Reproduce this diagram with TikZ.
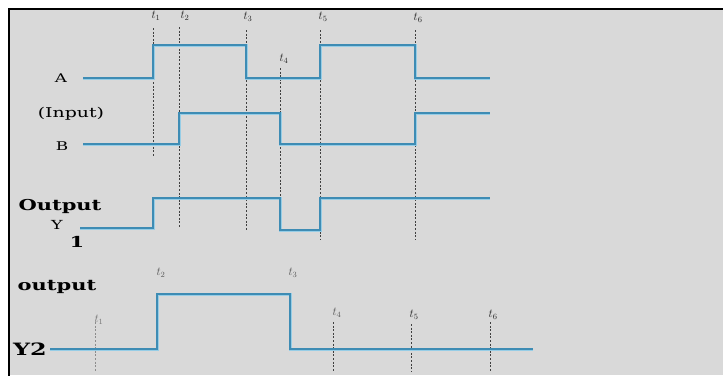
\documentclass[tikz,border=0pt]{standalone}
\usepackage{fontspec}
\newfontfamily\wideserif[FakeStretch=1.4]{DejaVu Serif}
\definecolor{bg}{RGB}{217,217,217}
\definecolor{wavecol}{RGB}{62,140,180}
\definecolor{halo}{RGB}{150,205,230}
\begin{document}
\begin{tikzpicture}[x=1pt,y=-1pt,
  wave/.style={draw=wavecol, line width=1.3pt, preaction={draw=halo, line width=3pt}},
  tline/.style={draw=black!75, line width=0.7pt, dash pattern=on 2pt off 1.6pt},
  tlab/.style={font=\fontsize{12}{12}\selectfont, text=black!85, inner sep=0pt},
  lab/.style={font=\wideserif\fontsize{12}{12}\selectfont, inner sep=0pt},
  blab/.style={font=\wideserif\fontsize{15}{15}\selectfont\bfseries, inner sep=0pt}]
\useasboundingbox (0,0) rectangle (723,375);
\fill[bg] (9,9) rectangle (723,375);
\draw[line width=2.5pt] (9,376) -- (9,9) -- (724,9);

% time lines (upper diagram)
\draw[tline] (153,28) -- (153,157);
\draw[tline] (179,27) -- (179,228);
\draw[tline] (246,30) -- (246,230);
\draw[tline] (280,68) -- (280,230);
\draw[tline] (320,30) -- (320,240);
\draw[tline] (415,30) -- (415,240);
\node[tlab] (u1) at (156,16) {$t_1$};
\node[tlab] (u2) at (185,16) {$t_2$};
\node[tlab] (u3) at (248,17) {$t_3$};
\node[tlab] (u4) at (284,59) {$t_4$};
\node[tlab] (u5) at (323,17) {$t_5$};
\node[tlab] (u6) at (418,18) {$t_6$};

% waveforms
\draw[wave] (83,78) -- (153,78) -- (153,45) -- (246,45) -- (246,78) -- (320,78) -- (320,45) -- (415,45) -- (415,78) -- (490,78);
\draw[wave] (83,144) -- (179,144) -- (179,113) -- (280,113) -- (280,144) -- (415,144) -- (415,113) -- (490,113);
\draw[wave] (80,228) -- (153,228) -- (153,198) -- (280,198) -- (280,230) -- (320,230) -- (320,198) -- (490,198);

% lower diagram time lines
\draw[tline, draw=black!45] (95,322) -- (95,372);
\draw[tline] (333,322) -- (333,372);
\draw[tline] (411,324) -- (411,372);
\draw[tline] (490,322) -- (490,372);
\node[tlab, text=black!55] (v1) at (99,320) {$t_1$};
\node[tlab, text=black!65] (v2) at (161,273) {$t_2$};
\node[tlab, text=black!65] (v3) at (293,273) {$t_3$};
\node[tlab, text=black!65] (v4) at (337,313) {$t_4$};
\node[tlab] (v5) at (414,315) {$t_5$};
\node[tlab] (v6) at (493,315) {$t_6$};
\draw[wave] (50,349) -- (157,349) -- (157,294) -- (290,294) -- (290,349) -- (533,349);

% labels
\node[lab] (a) at (61,78) {A};
\node[lab, font=\wideserif\fontsize{13.5}{14}\selectfont] (inp) at (71,114) {(Input)};
\node[lab] (b) at (62,146) {B};
\node[blab] (out1) at (60,206) {Output};
\node[lab, font=\wideserif\fontsize{12.5}{13}\selectfont] (y1) at (57,225) {Y};
\node[blab] (one) at (77,242) {1};
\node[blab] (out2) at (57,287) {output};
\node[blab, font=\wideserif\fontsize{17}{17}\selectfont\bfseries] (y2) at (30,349) {Y2};
\end{tikzpicture}
\end{document}
